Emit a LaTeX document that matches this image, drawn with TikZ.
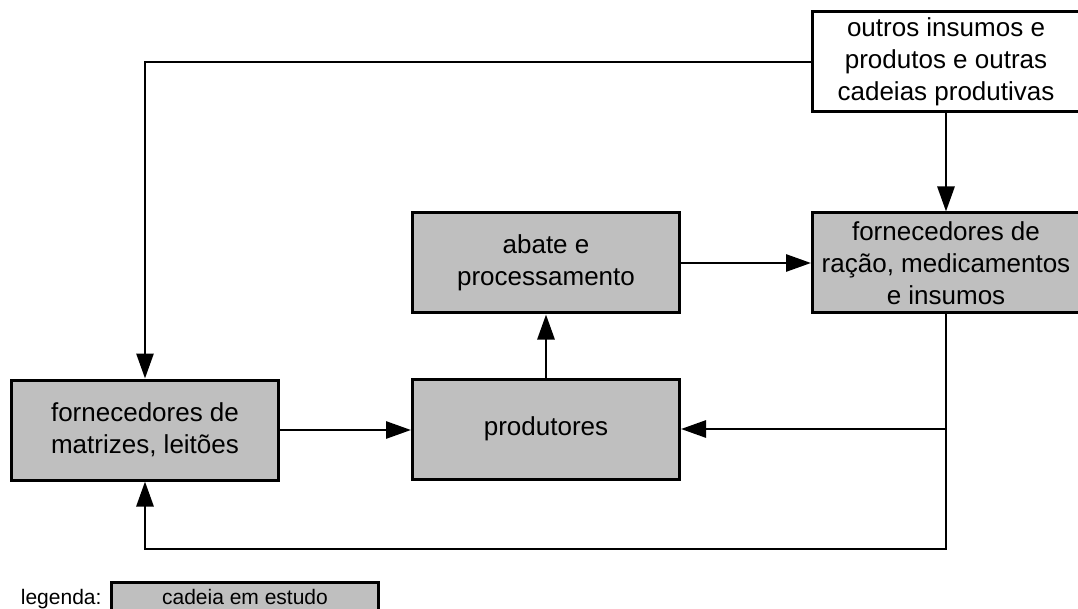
\documentclass[tikz,border=0pt]{standalone}
\usepackage{fontspec}
\setmainfont{Liberation Sans}
\usepackage{tikz}
\usetikzlibrary{arrows.meta}
\usetikzlibrary{positioning}
\usetikzlibrary{calc}

\begin{document}
\begin{tikzpicture}[
  x=1pt, y=-1pt,
  chain/.style={rectangle, draw, line width=3pt, fill=black!25, minimum width=267pt, minimum height=100pt, align=center, font=\fontsize{26}{32}\selectfont},
  other/.style={chain, fill=white},
  conn/.style={draw, line width=2.8pt, -{Triangle[length=25pt, width=17pt]}}
]
\useasboundingbox (0,0) rectangle (1078,609);

% Nodes
\node[other] (outros) at (946,62) {outros insumos e\\produtos e outras\\cadeias produtivas};
\node[chain] (racao) at (946,263) {fornecedores de\\ração, medicamentos\\e insumos};
\node[chain] (abate) at (546,263) {abate e\\processamento};
\node[chain] (prod) at (546,429) {produtores};
\node[chain] (matrizes) at (145,430) {fornecedores de\\matrizes, leitões};

% Legend
\node[chain, minimum height=30pt, font=\fontsize{21}{25}\selectfont] (legbox) at (245,597) {cadeia em estudo};
\node[anchor=base east, font=\fontsize{21}{25}\selectfont] (leg) at ([xshift=-5pt]legbox.base west) {legenda:};

% Helper points
\coordinate (split) at (racao.south |- prod.east);
\coordinate (bottom) at ($(racao.south |- 0,549)$);

% Connections
\draw[conn] (outros.west) -| (matrizes.north);
\draw[conn] (outros.south) -- (racao.north);
\draw[conn] (abate.east) -- (racao.west);
\draw[conn] (prod.north) -- (abate.south);
\draw[conn] (matrizes.east) -- (matrizes.east -| prod.west);
\draw[conn] (split) -- (prod.east);
\draw[conn] (racao.south) -- (bottom) -| (matrizes.south);

\end{tikzpicture}
\end{document}
